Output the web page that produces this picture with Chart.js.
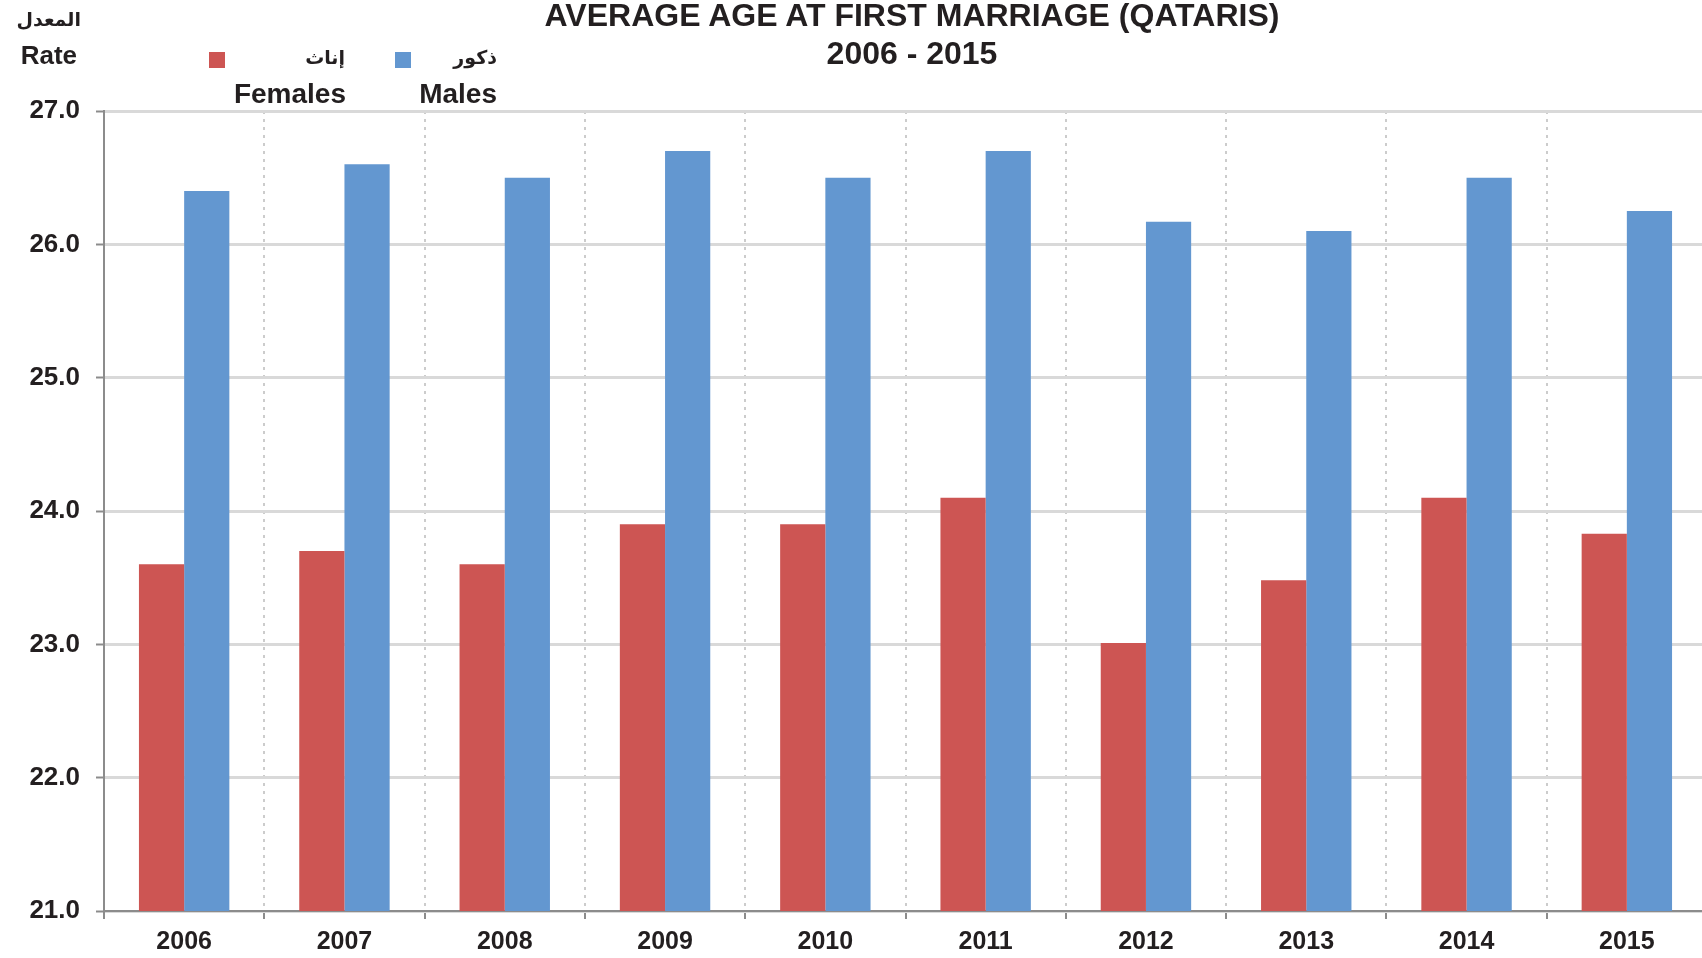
<!DOCTYPE html>
<html>
<head>
<meta charset="utf-8">
<script src="https://cdn.jsdelivr.net/npm/chart.js@4"></script>
<style>
  html, body { margin: 0; padding: 0; background: #fff; overflow: hidden; }
  body { width: 1702px; height: 958px; position: relative; font-family: 'Liberation Sans', Arial, sans-serif; color: #231f20; }
  #chart { position: absolute; left: 0; top: 0; }
  .txt { position: absolute; font-weight: bold; white-space: nowrap; line-height: 1; }
  .title { left: 412px; width: 1000px; text-align: center; font-size: 32px; }
  .ar { font-family: 'DejaVu Sans', sans-serif; font-size: 19px; direction: rtl; }
  .sw { position: absolute; width: 16px; height: 16px; }
</style>
</head>
<body>
<canvas id="chart" width="1712" height="958"></canvas>

<div class="txt title" style="top:-1px;">AVERAGE AGE AT FIRST MARRIAGE (QATARIS)</div>
<div class="txt title" style="top:37px;">2006 - 2015</div>

<div class="txt ar" style="left:0; width:81px; text-align:right; top:10px;">المعدل</div>
<div class="txt" style="left:0; width:77px; text-align:right; top:42px; font-size:26px;">Rate</div>

<div class="sw" style="left:209px; top:52px; background:#cd5553;"></div>
<div class="txt ar" style="left:245px; width:100px; text-align:right; top:48px;">إناث</div>
<div class="txt" style="left:200px; width:146px; text-align:right; top:80px; font-size:28px;">Females</div>

<div class="sw" style="left:395px; top:52px; background:#6397d0;"></div>
<div class="txt ar" style="left:397px; width:100px; text-align:right; top:48px;">ذكور</div>
<div class="txt" style="left:386px; width:111px; text-align:right; top:80px; font-size:28px;">Males</div>

<script>
// ── Data ──
const YEARS   = ['2006', '2007', '2008', '2009', '2010', '2011', '2012', '2013', '2014', '2015'];
const FEMALES = [23.6, 23.7, 23.6, 23.9, 23.9, 24.1, 23.01, 23.48, 24.1, 23.83];
const MALES   = [26.4, 26.6, 26.5, 26.7, 26.5, 26.7, 26.17, 26.1, 26.5, 26.25];
const Y_MIN = 21, Y_MAX = 27;

// ── Colours ──
const C_FEMALE = '#cd5553';
const C_MALE   = '#6397d0';
const C_TEXT   = '#231f20';
const C_AXIS   = '#8c8c8c';
const C_GRID   = '#d9d9d9';
const C_VGRID  = '#cccccc';

const TICK_FONT = { family: "'Liberation Sans', Arial, sans-serif", size: 26, weight: 'bold' };

new Chart(document.getElementById('chart'), {
  type: 'bar',
  data: {
    labels: YEARS,
    datasets: [
      { label: 'Females', data: FEMALES, backgroundColor: C_FEMALE, borderWidth: 0,
        categoryPercentage: 0.564, barPercentage: 1.0 },
      { label: 'Males', data: MALES, backgroundColor: C_MALE, borderWidth: 0,
        categoryPercentage: 0.564, barPercentage: 1.0 },
    ]
  },
  options: {
    responsive: false,
    animation: false,
    devicePixelRatio: 1,
    layout: { padding: { top: 111, right: 5, left: 0, bottom: 0 } },
    plugins: { legend: { display: false }, tooltip: { enabled: false } },
    scales: {
      x: {
        offset: true,
        afterFit: s => { s.height = 47; },
        grid: { offset: true, color: C_VGRID, lineWidth: 2, tickColor: C_AXIS, tickWidth: 2, tickLength: 8 },
        border: { color: C_AXIS, width: 2, dash: [3, 5] },
        ticks: { color: C_TEXT, font: { ...TICK_FONT, size: 25 }, padding: 8, maxRotation: 0 }
      },
      y: {
        min: Y_MIN,
        max: Y_MAX,
        afterFit: s => { s.width = 104; },
        grid: { color: C_GRID, lineWidth: 3, tickColor: C_AXIS, tickWidth: 2, tickLength: 8 },
        border: { color: C_AXIS, width: 2 },
        ticks: { stepSize: 1, color: C_TEXT, font: TICK_FONT, padding: 16, callback: v => v.toFixed(1) }
      }
    }
  }
});
</script>
</body>
</html>
